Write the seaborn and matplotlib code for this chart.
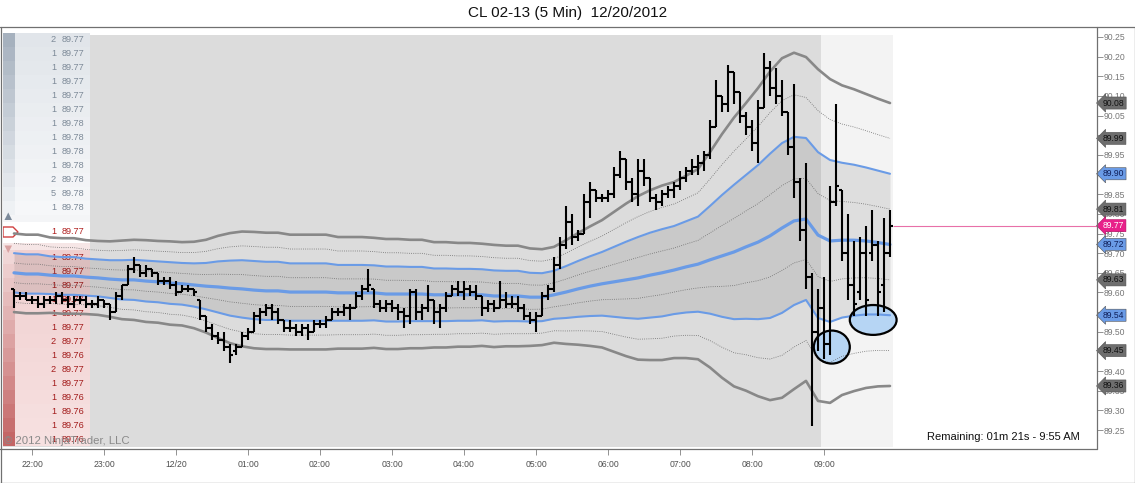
import matplotlib
matplotlib.use("Agg")
import numpy as np
import pandas as pd
import matplotlib.pyplot as plt
import matplotlib.transforms as mtrans
import matplotlib.colors as mcolors
from matplotlib.patches import Rectangle, Ellipse, Polygon
from matplotlib.lines import Line2D
import seaborn as sns

# ---------------- data ----------------
title = "CL 02-13 (5 Min)  12/20/2012"
time_labels = ["22:00", "23:00", "12/20", "01:00", "02:00", "03:00", "04:00",
               "05:00", "06:00", "07:00", "08:00", "09:00"]
time_label_bars = [3, 15, 27, 39, 51, 63, 75, 87, 99, 111, 123, 135]

bar_open = [89.61,89.59,89.59,89.58,89.58,89.57,89.58,89.58,89.59,89.58,
            89.57,89.58,89.58,89.57,89.57,89.58,89.57,89.55,89.59,89.62,
            89.66,89.67,89.65,89.66,89.65,89.63,89.63,89.62,89.60,89.61,
            89.61,89.58,89.54,89.51,89.49,89.48,89.46,89.45,89.46,89.49,
            89.50,89.54,89.55,89.56,89.55,89.53,89.51,89.51,89.50,89.51,
            89.50,89.52,89.52,89.53,89.55,89.55,89.56,89.56,89.59,89.61,
            89.61,89.57,89.56,89.57,89.56,89.55,89.54,89.60,89.55,89.56,
            89.58,89.55,89.56,89.59,89.61,89.60,89.61,89.60,89.59,89.56,
            89.57,89.56,89.58,89.57,89.57,89.56,89.54,89.53,89.54,89.59,
            89.61,89.67,89.72,89.78,89.74,89.75,89.83,89.86,89.84,89.84,
            89.85,89.90,89.94,89.88,89.85,89.91,89.89,89.84,89.83,89.85,
            89.86,89.87,89.89,89.91,89.92,89.93,89.95,90.02,90.10,90.08,
            90.16,90.11,90.05,90.02,89.98,90.07,90.17,90.12,90.10,90.06,
            89.97,89.88,89.76,89.64,89.50,89.56,89.47,89.83,89.86,89.70,
            89.62,89.60,89.70,89.70,89.72,89.62,89.70]
bar_high = [89.61,89.60,89.60,89.59,89.59,89.59,89.59,89.60,89.60,89.59,
            89.59,89.59,89.59,89.58,89.59,89.58,89.57,89.60,89.62,89.67,
            89.69,89.67,89.67,89.66,89.65,89.64,89.64,89.63,89.62,89.62,
            89.61,89.58,89.54,89.52,89.50,89.50,89.47,89.47,89.50,89.51,
            89.55,89.56,89.57,89.57,89.56,89.53,89.53,89.52,89.52,89.52,
            89.53,89.53,89.54,89.56,89.56,89.57,89.57,89.60,89.62,89.66,
            89.61,89.58,89.58,89.58,89.57,89.56,89.61,89.61,89.57,89.62,
            89.58,89.57,89.60,89.62,89.63,89.63,89.62,89.62,89.59,89.58,
            89.58,89.63,89.60,89.59,89.59,89.57,89.55,89.55,89.60,89.62,
            89.69,89.74,89.82,89.80,89.76,89.85,89.88,89.86,89.85,89.86,
            89.92,89.96,89.94,89.89,89.94,89.94,89.89,89.85,89.86,89.87,
            89.88,89.91,89.92,89.94,89.95,89.96,90.04,90.14,90.10,90.18,
            90.16,90.11,90.06,90.04,90.09,90.21,90.19,90.17,90.14,90.06,
            90.13,89.89,89.93,89.65,89.61,89.64,89.87,90.08,89.86,89.80,
            89.73,89.74,89.77,89.81,89.73,89.79,89.81]
bar_low = [89.56,89.58,89.58,89.57,89.56,89.56,89.57,89.57,89.57,89.56,
           89.56,89.57,89.56,89.56,89.56,89.56,89.53,89.55,89.58,89.62,
           89.65,89.64,89.64,89.64,89.62,89.62,89.61,89.59,89.60,89.60,
           89.59,89.53,89.50,89.48,89.47,89.45,89.42,89.44,89.46,89.48,
           89.50,89.52,89.54,89.53,89.52,89.50,89.50,89.49,89.49,89.48,
           89.50,89.51,89.51,89.53,89.54,89.54,89.53,89.56,89.58,89.60,
           89.56,89.55,89.55,89.55,89.53,89.51,89.52,89.53,89.53,89.55,
           89.52,89.51,89.55,89.59,89.59,89.58,89.59,89.58,89.54,89.55,
           89.55,89.56,89.56,89.56,89.55,89.53,89.52,89.50,89.54,89.58,
           89.60,89.66,89.71,89.72,89.73,89.75,89.79,89.83,89.83,89.83,
           89.84,89.89,89.86,89.83,89.82,89.87,89.83,89.81,89.82,89.84,
           89.84,89.86,89.88,89.90,89.90,89.91,89.94,90.02,90.06,90.06,
           90.08,90.03,90.00,89.96,89.93,90.07,90.10,90.08,90.05,89.95,
           89.84,89.73,89.61,89.26,89.45,89.43,89.44,89.82,89.68,89.58,
           89.54,89.58,89.54,89.68,89.54,89.55,89.69]
bar_close = [89.59,89.59,89.58,89.58,89.57,89.58,89.58,89.59,89.58,89.57,
             89.58,89.58,89.57,89.57,89.58,89.57,89.55,89.59,89.62,89.66,
             89.67,89.65,89.66,89.65,89.63,89.63,89.62,89.60,89.61,89.61,
             89.60,89.54,89.51,89.49,89.48,89.46,89.44,89.46,89.49,89.50,
             89.54,89.55,89.56,89.55,89.53,89.51,89.51,89.50,89.51,89.50,
             89.52,89.52,89.53,89.55,89.55,89.56,89.56,89.59,89.61,89.62,
             89.57,89.56,89.57,89.56,89.55,89.54,89.60,89.55,89.56,89.58,
             89.55,89.56,89.59,89.61,89.60,89.61,89.60,89.59,89.56,89.57,
             89.56,89.58,89.57,89.57,89.56,89.54,89.53,89.54,89.59,89.61,
             89.67,89.72,89.78,89.74,89.75,89.83,89.86,89.84,89.84,89.85,
             89.90,89.94,89.88,89.85,89.91,89.89,89.84,89.83,89.85,89.86,
             89.87,89.89,89.91,89.92,89.93,89.95,90.02,90.10,90.08,90.16,
             90.11,90.05,90.02,89.98,90.07,90.17,90.12,90.10,90.06,89.97,
             89.88,89.76,89.64,89.50,89.56,89.47,89.83,89.87,89.70,89.62,
             89.57,89.70,89.58,89.72,89.60,89.70,89.77]

# VWAP band, read every second bar
band_bar = list(range(0, 147, 2))
band_vwap = [89.650,89.647,89.647,89.644,89.642,89.642,89.639,89.637,89.634,89.632,
             89.632,89.629,89.627,89.624,89.622,89.619,89.616,89.614,89.611,89.609,
             89.606,89.604,89.604,89.601,89.601,89.601,89.601,89.599,89.599,89.599,
             89.599,89.596,89.596,89.596,89.596,89.594,89.594,89.594,89.594,89.594,
             89.591,89.591,89.591,89.588,89.588,89.594,89.601,89.609,89.616,89.622,
             89.627,89.632,89.637,89.644,89.650,89.657,89.665,89.672,89.683,89.693,
             89.703,89.716,89.728,89.744,89.764,89.782,89.787,89.746,89.731,89.733,
             89.733,89.731,89.727,89.722]
band_sd = [0.050,0.050,0.050,0.048,0.048,0.048,0.047,0.047,0.048,0.050,
           0.051,0.052,0.052,0.053,0.053,0.055,0.059,0.065,0.070,0.073,
           0.074,0.074,0.074,0.073,0.073,0.073,0.073,0.071,0.071,0.071,
           0.070,0.070,0.070,0.069,0.069,0.067,0.067,0.066,0.066,0.065,
           0.065,0.064,0.064,0.062,0.061,0.061,0.066,0.071,0.076,0.081,
           0.089,0.097,0.104,0.108,0.111,0.112,0.116,0.121,0.137,0.155,
           0.171,0.183,0.196,0.209,0.216,0.214,0.206,0.211,0.206,0.197,
           0.192,0.187,0.183,0.180]

# depth ladder
ask_sizes = [2, 1, 1, 1, 1, 1, 1, 1, 1, 1, 2, 5, 1]
ask_prices = ["89.77"] * 6 + ["89.78"] * 7
mid_size, mid_price = 1, "89.77"
bid_sizes = [1, 1, 1, 1, 1, 1, 2, 1, 2, 1, 1, 1, 1, 1]
bid_prices = ["89.77", "89.77", "89.77", "89.77", "89.77", "89.77", "89.77",
              "89.76", "89.77", "89.77", "89.76", "89.76", "89.76", "89.76"]

# highlight ellipses (bar index, price, width in bars, height in price)
ell_x = [136.3, 143.2]
ell_y = [89.461, 89.530]
ell_w = [6.0, 7.8]
ell_h = [0.084, 0.076]

session_split_bar = 134.5
last_bar_edge = 146.5

# ---------------- style / figure ----------------
sns.set_theme(style="white")
plt.rcParams["font.family"] = ["Liberation Sans", "DejaVu Sans"]

FW, FH = 1135, 483
fig = plt.figure(figsize=(FW / 100, FH / 100), dpi=100)
fig.patch.set_facecolor("white")
L, R, T, B = 3, 1097, 27, 449
ax = fig.add_axes([L / FW, 1 - B / FH, (R - L) / FW, (B - T) / FH])
ax.set_facecolor("white")

PX0, PXW = 14, 6            # first bar pixel, bar spacing
PY0, PPX = 37, 393          # 90.25 at y=37, 393 px per 1.00
ax.set_xlim((L - PX0) / PXW, (R - PX0) / PXW)
ax.set_ylim(90.25 - (B - PY0) / PPX, 90.25 + (PY0 - T) / PPX)

px = mtrans.Affine2D().scale(1 / FW, -1 / FH).translate(0, 1) + fig.transFigure

# backgrounds
y_lo_frac = (B - 447) / (B - T)
y_hi_frac = (B - 35) / (B - T)
ax.axvspan(ax.get_xlim()[0], session_split_bar, ymin=y_lo_frac, ymax=y_hi_frac,
           color="#dcdcdc", lw=0, zorder=0.5)
ax.axvspan(session_split_bar, last_bar_edge, ymin=y_lo_frac, ymax=y_hi_frac,
           color="#f3f3f3", lw=0, zorder=0.5)

# ---------------- ladder overlay ----------------
def mix(c1, c2, t):
    a = np.array(mcolors.to_rgb(c1)); b = np.array(mcolors.to_rgb(c2))
    return tuple(a + (b - a) * t)

fs_lad = 6.6
n = len(ask_sizes)
for k, (s, p) in enumerate(zip(ask_sizes, ask_prices)):
    yc = 40 + 14 * k
    t = k / (n - 1)
    ax.add_patch(Rectangle((15, yc - 7), 75, 14, transform=px, lw=0,
                           color=mix("#e1e5ea", "#f6f7f9", t), zorder=1))
    ax.add_patch(Rectangle((3, yc - 7), 12, 14, transform=px, lw=0,
                           color=mix("#a6b1be", "#eef1f4", t), zorder=1))
    ax.text(56, yc, str(s), transform=px, ha="right", va="center",
            fontsize=fs_lad, color="#7d8a98", zorder=2)
    ax.text(62, yc, p, transform=px, ha="left", va="center",
            fontsize=fs_lad, color="#7d8a98", zorder=2)
ax.add_patch(Rectangle((3, 215), 87, 7, transform=px, lw=0, color="#f4f5f7", zorder=1))
ax.add_patch(Polygon([(4.5, 220), (12, 220), (8.25, 212.5)], closed=True, transform=px,
                     color="#7c8a9a", lw=0, zorder=1.5))
ax.add_patch(Rectangle((3, 222), 87, 21, transform=px, lw=0, color="white", zorder=1))
ax.add_patch(Polygon([(3, 227), (13, 227), (18, 232), (13, 237), (3, 237)], closed=True,
                     transform=px, fc="none", ec="#d04040", lw=1.0, zorder=1.5))
ax.text(56, 232, str(mid_size), transform=px, ha="right", va="center",
        fontsize=fs_lad, color="#b02020", zorder=2)
ax.text(62, 232, mid_price, transform=px, ha="left", va="center",
        fontsize=fs_lad, color="#b02020", zorder=2)
ax.add_patch(Rectangle((3, 243), 87, 7, transform=px, lw=0, color="#f6e6e6", zorder=1))
ax.add_patch(Polygon([(4.5, 245.5), (12, 245.5), (8.25, 253)], closed=True, transform=px,
                     color="#d9a2a2", lw=0, zorder=1.5))
m = len(bid_sizes)
for k, (s, p) in enumerate(zip(bid_sizes, bid_prices)):
    yc = 257 + 14 * k
    t = k / (m - 1)
    ax.add_patch(Rectangle((15, yc - 7), 75, 14, transform=px, lw=0,
                           color=mix("#f0d0d0", "#f6e0e0", t), zorder=1))
    ax.add_patch(Rectangle((3, yc - 7), 12, 14, transform=px, lw=0,
                           color=mix("#f0d6d6", "#c46666", t), zorder=1))
    ax.text(56, yc, str(s), transform=px, ha="right", va="center",
            fontsize=fs_lad, color="#a31c1c", zorder=2)
    ax.text(62, yc, p, transform=px, ha="left", va="center",
            fontsize=fs_lad, color="#a31c1c", zorder=2)

# ---------------- bands ----------------
bands = pd.DataFrame({"bar": band_bar, "vwap": band_vwap, "sd": band_sd})
ax.fill_between(bands["bar"], bands["vwap"] - bands["sd"], bands["vwap"] + bands["sd"],
                color="black", alpha=0.085, lw=0, zorder=3)

for e in range(len(ell_x)):
    ax.add_patch(Ellipse((ell_x[e], ell_y[e]), ell_w[e], ell_h[e], fc="#b0d2f5",
                         ec="none", alpha=0.9, zorder=3.5))

dotted = (0, (1, 1.6))
specs = [(2.0, "#888888", 1.9, "-"), (1.5, "#6e6e6e", 0.6, dotted),
         (1.0, "#6a9be6", 1.5, "-"), (0.5, "#6e6e6e", 0.6, dotted)]
for kk, col, lw, ls in specs:
    for sg in (1, -1):
        sns.lineplot(x=bands["bar"], y=bands["vwap"] + sg * kk * bands["sd"], ax=ax,
                     color=col, lw=lw, linestyle=ls, zorder=4, estimator=None)
sns.lineplot(x=bands["bar"], y=bands["vwap"], ax=ax, color="#6a9be6", lw=2.3,
             zorder=4.2, estimator=None)

# ---------------- OHLC bars ----------------
idx = np.arange(len(bar_close))
ax.vlines(idx, bar_low, bar_high, color="black", lw=1.5, zorder=6)
ax.hlines(bar_open, idx - 0.55, idx, color="black", lw=1.5, zorder=6)
ax.hlines(bar_close, idx, idx + 0.55, color="black", lw=1.5, zorder=6)

for e in range(len(ell_x)):
    ax.add_patch(Ellipse((ell_x[e], ell_y[e]), ell_w[e], ell_h[e], fc="none",
                         ec="black", lw=1.6, zorder=6.5))

# last price line
ax.hlines(bar_close[-1], last_bar_edge, ax.get_xlim()[1], color="#e870a8", lw=0.8, zorder=5)

# ---------------- axes ----------------
ax.set_xlabel(""); ax.set_ylabel("")
for s in ax.spines.values():
    s.set_visible(False)
ax.yaxis.tick_right()
yt = np.round(np.arange(89.25, 90.2501, 0.05), 2)
ax.set_yticks(yt)
ax.set_yticklabels([f"{v:.2f}" for v in yt])
ax.tick_params(axis="y", which="both", right=True, left=False, direction="out",
               length=4, width=0.6, color="#808080", labelsize=6.2,
               labelcolor="#777777", pad=1)
ax.set_xticks(time_label_bars)
ax.set_xticklabels(time_labels)
ax.tick_params(axis="x", which="both", bottom=True, direction="out", length=4,
               width=0.6, color="#808080", labelsize=6.2, labelcolor="#505050", pad=4)

# right-side value flags
bt = mtrans.blended_transform_factory(fig.transFigure, ax.transData)
v_last, s_last = band_vwap[-1], band_sd[-1]
flags = [(2.0, "#6e6e6e", "#111111"), (1.5, "#6e6e6e", "#111111"),
         (1.0, "#6a9be6", "#10205a"), (0.5, "#6e6e6e", "#111111"),
         (0.0, "#6a9be6", "#10205a"), (-0.5, "#6e6e6e", "#111111"),
         (-1.0, "#6a9be6", "#10205a"), (-1.5, "#6e6e6e", "#111111"),
         (-2.0, "#6e6e6e", "#111111")]
for kk, fc, tc in flags:
    v = v_last + kk * s_last
    ax.text(1103 / FW, v, f"{v:.2f}", transform=bt, ha="left", va="center",
            fontsize=6.2, color=tc, clip_on=False, zorder=8,
            bbox=dict(boxstyle="larrow,pad=0.18", fc=fc, ec="#505050", lw=0.4))
ax.text(1103 / FW, bar_close[-1], f"{bar_close[-1]:.2f}", transform=bt, ha="left",
        va="center", fontsize=6.2, color="white", clip_on=False, zorder=9,
        bbox=dict(boxstyle="larrow,pad=0.18", fc="#e8208a", ec="#b01060", lw=0.4))

# ---------------- frame & texts ----------------
lc = "#707070"
for xs, ys in [([0, FW], [T, T]), ([R, R], [T, B]), ([0, R], [B, B]),
               ([0.5, 0.5], [T, 482.5]), ([FW - 0.5, FW - 0.5], [T, 482.5]),
               ([0, FW], [482.5, 482.5])]:
    fig.add_artist(Line2D(xs, ys, transform=px, color=lc, lw=0.9))

fig.text(0.5, 1 - 13 / FH, title, ha="center", va="center", fontsize=11, color="#111111")
ax.text(4, 441, "\u00a9 2012 NinjaTrader, LLC", transform=px, ha="left", va="center",
        fontsize=8.2, color="#8a8a8a", zorder=7)
ax.text(1080, 437, "Remaining: 01m 21s - 9:55 AM", transform=px, ha="right",
        va="center", fontsize=8, color="#111111", zorder=7)

fig.savefig("out.png", dpi=100, facecolor="white")
